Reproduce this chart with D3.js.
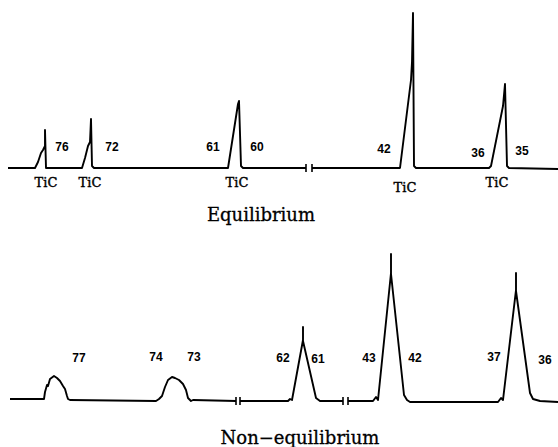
<!DOCTYPE html>
<html>
<head>
<meta charset="utf-8">
<script src="https://cdn.jsdelivr.net/npm/d3@7"></script>
<style>
  body { margin: 0; background: #fff; }
  svg { display: block; }
</style>
</head>
<body>
<script>
let w = 558
let h = 447

// scan position (x) vs. signal intensity (y); null = broken axis
let eqTrace = [
  [4,0],[17.5,0],[19,1.2],[20.5,3],[21.5,3.6],[22.5,4.4],[22.5,7.6],[23,0],
  [41,0],[42.5,2],[44,4.4],[45,5.2],[45.5,9.8],[46,0.4],[47,0],
  [114,0],[119,12.8],[119.5,13.4],[120.5,0.4],[121.5,0],[153,0],
  null,
  [156,0],[200,0],[205.5,17.6],[206,21.2],[206.5,31],[207,0.4],[208,0],
  [244.5,0],[245.5,0.4],[251.5,12.4],[252.5,16.8],[253.5,0.4],[254.5,0],[279,-0.2]
]

let neqTrace = [
  [5,0.2],[22,0.2],[22.5,1.6],[23.5,3],[24,2.8],[25,4.2],[27,4.8],[28.5,4.4],
  [30,3.8],[31.5,2.8],[32.5,2.2],[33.5,0.8],[34,0.2],[35,0],
  [78,-0.2],[79.5,0.2],[81,0.8],[82.5,2.6],[84,4],[86,4.6],[87.5,4.4],[89.5,4],
  [91.5,3.2],[93,2],[94,0.4],[95.5,-0.2],[96.5,0],[118,-0.2],
  null,
  [120,-0.2],[144,-0.2],[145,0.2],[146,0],[151.5,12],[151.5,14.6],[151.5,11.8],
  [158,0.4],[160,-0.2],[171.5,-0.2],
  null,
  [174,-0.2],[186.5,-0.2],[188,0.6],[189,0],[195.5,25.4],[195.5,29.2],[195.5,25.2],
  [202,1],[203.5,0],[205,-0.4],[249,-0.4],[250.5,0.4],[251.5,0],[258,22],[258,25.4],
  [258,21.8],[265,1.4],[266.5,0.2],[270,-0.2],[279,-0.4]
]

let eqLabels = ["76", "72", "61", "60", "42", "36", "35"]
let eqLabelX = [31, 56, 106.5, 128.5, 192, 239, 261]
let eqLabelY = [3.4, 3.4, 3.4, 3.4, 3, 2.2, 2.6]

let ticX = [23, 45, 118.5, 202.5, 248.5]
let ticY = [-3.8, -3.8, -3.8, -4.8, -3.8]

let neqLabels = ["77", "74", "73", "62", "61", "43", "42", "37", "36"]
let neqLabelX = [39.5, 78, 97, 141.5, 159, 184.5, 207.5, 247, 272.5]
let neqLabelY = [7.6, 7.8, 7.8, 7.6, 7.4, 7.6, 7.6, 7.8, 7.2]

let svg = d3.select("body").append("svg")
  .attr("width", w)
  .attr("height", h)

let x = d3.scaleLinear().domain([0, 279]).range([0, 558])
let yTop = d3.scaleLinear().domain([0, 31]).range([168, 13])
let yBot = d3.scaleLinear().domain([0, 31]).range([400, 245])

let drawPanel = (trace, y) => {
  let line = d3.line()
    .defined(d => d)
    .x(d => x(d[0]))
    .y(d => y(d[1]))

  svg.append("path")
    .datum(trace)
    .attr("d", line)
    .attr("fill", "none")
    .attr("stroke", "#000")
    .attr("stroke-width", 1.9)
    .attr("stroke-linejoin", "round")

  // little ticks where the axis is broken
  let ends = []
  trace.forEach((d, i) => {
    if (d && (trace[i - 1] === null || trace[i + 1] === null)) ends.push(d)
  })
  svg.selectAll(null)
    .data(ends)
    .enter()
    .append("line")
    .attr("x1", d => x(d[0]))
    .attr("x2", d => x(d[0]))
    .attr("y1", d => y(d[1]) - 4)
    .attr("y2", d => y(d[1]) + 4)
    .attr("stroke", "#000")
    .attr("stroke-width", 1.6)
}

let drawLabels = (texts, xs, ys, y, cls) => {
  svg.selectAll(null)
    .data(texts)
    .enter()
    .append("text")
    .attr("class", cls)
    .attr("x", (d, i) => x(xs[i]))
    .attr("y", (d, i) => y(ys[i]))
    .attr("text-anchor", "middle")
    .text(d => d)
}

drawPanel(eqTrace, yTop)
drawPanel(neqTrace, yBot)

drawLabels(eqLabels, eqLabelX, eqLabelY, yTop, "num")
drawLabels(neqLabels, neqLabelX, neqLabelY, yBot, "num")
drawLabels(ticX.map(() => "TiC"), ticX, ticY, yTop, "tic")

svg.selectAll(".num")
  .style("font-family", "Liberation Sans, Arial, sans-serif")
  .style("font-weight", "bold")
  .style("font-size", "12px")

svg.selectAll(".tic")
  .style("font-family", "DejaVu Serif, serif")
  .style("font-size", "13px")
  .attr("stroke", "#000")
  .attr("stroke-width", 0.4)

svg.append("text")
  .attr("x", 261)
  .attr("y", 221)
  .attr("text-anchor", "middle")
  .style("font-family", "DejaVu Serif, serif")
  .style("font-size", "18px")
  .attr("stroke", "#000")
  .attr("stroke-width", 0.3)
  .text("Equilibrium")

svg.append("text")
  .attr("x", 300)
  .attr("y", 444)
  .attr("text-anchor", "middle")
  .style("font-family", "DejaVu Serif, serif")
  .style("font-size", "18px")
  .attr("stroke", "#000")
  .attr("stroke-width", 0.3)
  .text("Non\u2212equilibrium")
</script>
</body>
</html>
